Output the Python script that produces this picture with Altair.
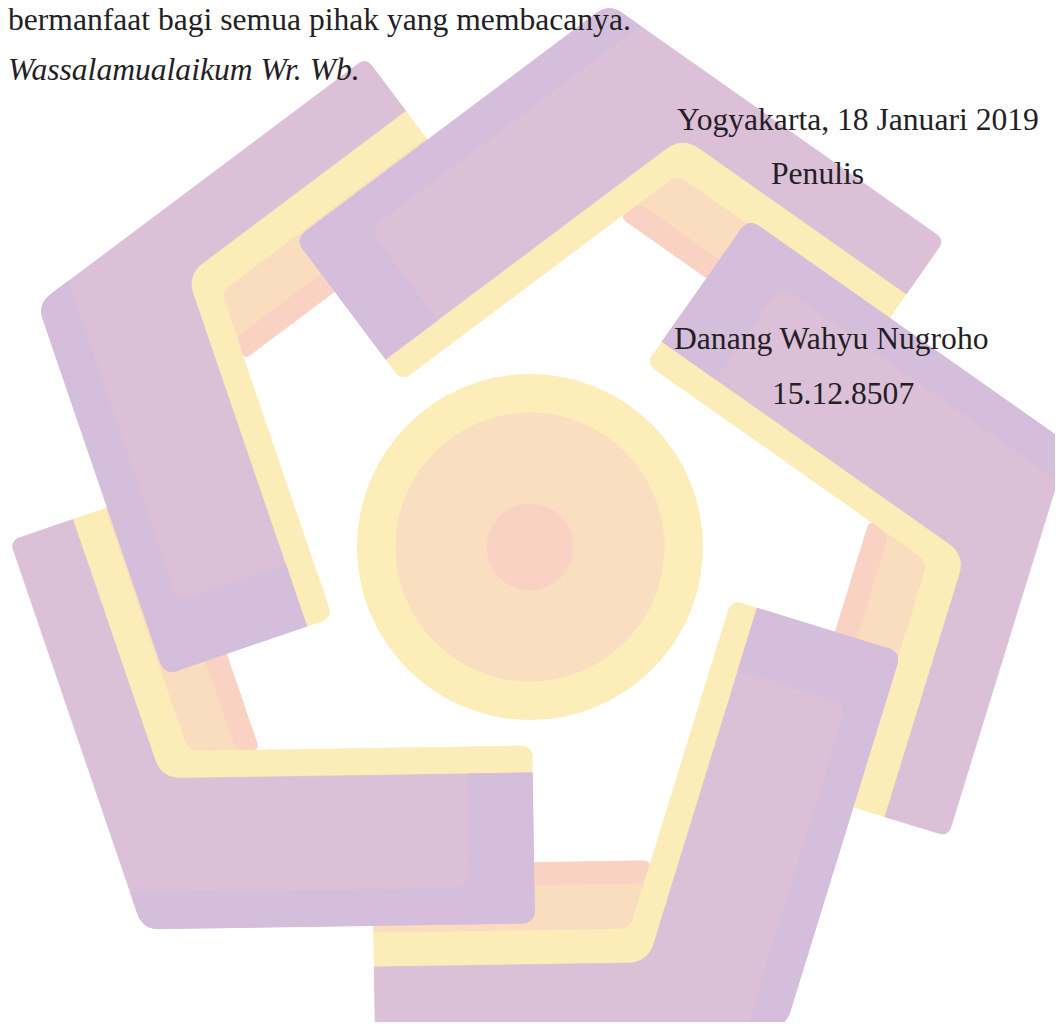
import numpy as np
import pandas as pd
import altair as alt

# ---------------- values (pixels, y down) ----------------
CENTER = (530.0, 547.0)            # centre of the logo / circles
APEX = (609.0, 4.0)                # outer corner of the top arm
THICK_DIR_DEG = 143.13             # direction of the thick leg from the apex
THIN_DIR_DEG = 35.13               # direction of the thin leg from the apex
ARM_ROT_DEG = [0, -72, -144, -216, -288]
ARM_SHIFT = [(0, 0), (0, 0), (-4, -11), (0, -6), (-2, -10)]
LEG_THICK_LEN = 392
LEG_THIN_LEN = 410
PURPLE_W = [150, 66]               # purple width on thick / thin leg
YELLOW_IN = [177, 100]             # inner edge of yellow band (thick / thin)
PEACH_IN_THIN = 160
SALMON_OUT_THIN = 146
SALMON_IN_THIN = 168
BLUE_STRIP = 36
BLUE_END = 65
CIRCLE_R = [173, 134.5, 43.5]

PINK = "#dbc0d8"
BLUISH = "#d5bedb"
YELLOW = "#fcecb8"
PEACH = "#fadcbe"
SALMON = "#f9d2c3"
CIRCLE_COL = ["#fcedb9", "#fadec0", "#f9d2c4"]

TEXT_LINES = ["bermanfaat bagi semua pihak yang membacanya.",
              "Yogyakarta, 18 Januari 2019",
              "Penulis",
              "Danang Wahyu Nugroho",
              "15.12.8507"]
TEXT_X = [8, 677, 771, 674, 772]
TEXT_Y = [30, 130, 184, 349, 404]
ITALIC_LINES = ["Wassalamualaikum Wr. Wb."]
ITALIC_X = [8]
ITALIC_Y = [80]
FONT_SIZE = 31.6

# ---------------- geometry helpers ----------------
C = np.array(CENTER)
A = np.array(APEX)
u1 = np.array([np.cos(np.radians(THICK_DIR_DEG)), np.sin(np.radians(THICK_DIR_DEG))])
u2 = np.array([np.cos(np.radians(THIN_DIR_DEG)), np.sin(np.radians(THIN_DIR_DEG))])
n1 = np.array([u1[1], -u1[0]])
n2 = np.array([-u2[1], u2[0]])
if np.dot(n1, C - A) < 0:
    n1 = -n1
if np.dot(n2, C - A) < 0:
    n2 = -n2
M = np.array([n1, n2])


def pt_off(p, q):
    return A + np.linalg.solve(M, np.array([p, q]))


def pt_thick(p, s):
    return A + p * n1 + s * u1


def pt_thin(q, s):
    return A + q * n2 + s * u2


def rounded(pts, radii, nseg=12):
    out = []
    n = len(pts)
    for i in range(n):
        V = np.array(pts[i], dtype=float)
        r = radii[i]
        if r <= 0:
            out.append(V)
            continue
        P = np.array(pts[i - 1], dtype=float)
        N = np.array(pts[(i + 1) % n], dtype=float)
        a = P - V
        b = N - V
        la = np.linalg.norm(a)
        lb = np.linalg.norm(b)
        a /= la
        b /= lb
        th = np.arccos(np.clip(np.dot(a, b), -1, 1))
        t = r / np.tan(th / 2)
        t = min(t, 0.45 * la, 0.45 * lb)
        T1 = V + a * t
        T2 = V + b * t
        for s in np.linspace(0, 1, nseg):
            out.append((1 - s) ** 2 * T1 + 2 * (1 - s) * s * V + s ** 2 * T2)
    return out


def place(pts, deg, shift):
    al = np.radians(deg)
    ca, sa = np.cos(al), np.sin(al)
    res = []
    for p in pts:
        d = p - C
        res.append(C + np.array(shift) + np.array([d[0] * ca - d[1] * sa, d[0] * sa + d[1] * ca]))
    return res


L1, L2 = LEG_THICK_LEN, LEG_THIN_LEN
PT, PN = PURPLE_W
YT, YN = YELLOW_IN

shapes = {
    "peach": rounded([pt_off(YT, YN), pt_thin(YN, L2), pt_thin(PEACH_IN_THIN, L2),
                      pt_off(YT, PEACH_IN_THIN)], [10, 0, 0, 0]),
    "salmon": rounded([pt_off(YT, SALMON_OUT_THIN), pt_thin(SALMON_OUT_THIN, L2),
                       pt_thin(SALMON_IN_THIN, L2), pt_off(YT, SALMON_IN_THIN)], [14, 0, 0, 6]),
    "yellow": rounded([pt_thick(120, L1), pt_off(120, 40), pt_thin(40, L2), pt_thin(YN, L2),
                       pt_off(YT, YN), pt_thick(YT, L1)], [0, 0, 0, 0, 16, 12]),
    "pink": rounded([pt_thick(0, L1), A, pt_thin(0, L2), pt_thin(PN, L2),
                     pt_off(PT, PN), pt_thick(PT, L1)], [14, 22, 10, 0, 28, 0]),
    "bluish": rounded([pt_thick(0, L1), A, pt_off(BLUE_STRIP, 0),
                       pt_thick(BLUE_STRIP, L1 - BLUE_END), pt_thick(PT, L1 - BLUE_END),
                       pt_thick(PT, L1)], [14, 22, 0, 16, 0, 0]),
}
colors = {"peach": PEACH, "salmon": SALMON, "yellow": YELLOW, "pink": PINK, "bluish": BLUISH}


def shape_frame(name):
    rows = []
    for k, deg in enumerate(ARM_ROT_DEG):
        for i, p in enumerate(place(shapes[name], deg, ARM_SHIFT[k])):
            rows.append({"x": float(p[0]), "y": float(p[1]), "poly": f"{name}{k}", "i": i})
    return pd.DataFrame(rows)


X0, X1 = 8, 1055
Y0, Y1 = 8, 1022
xs = alt.X("x:Q", scale=alt.Scale(domain=[X0, X1], nice=False, zero=False), axis=None)
ys = alt.Y("y:Q", scale=alt.Scale(domain=[Y0, Y1], nice=False, zero=False, reverse=True), axis=None)

layers = []
for name in ["peach", "salmon", "yellow", "pink", "bluish"]:
    c = colors[name]
    layers.append(
        alt.Chart(shape_frame(name)).mark_line(fill=c, stroke=c, strokeWidth=0.8, clip=True)
        .encode(x=xs, y=ys, detail="poly:N", order="i:Q")
    )

for r, c in zip(CIRCLE_R, CIRCLE_COL):
    # Vega circle symbols: radius = sqrt(size) / 2
    dfc = pd.DataFrame({"x": [CENTER[0]], "y": [CENTER[1]], "s": [4.0 * r * r]})
    layers.append(
        alt.Chart(dfc).mark_circle(color=c, opacity=1, clip=True)
        .encode(x=xs, y=ys, size=alt.Size("s:Q", scale=None, legend=None))
    )

df_t = pd.DataFrame({"x": TEXT_X, "y": TEXT_Y, "t": TEXT_LINES})
layers.append(
    alt.Chart(df_t).mark_text(font="Liberation Serif", fontSize=FONT_SIZE, align="left",
                              baseline="alphabetic", color="#241e25")
    .encode(x=xs, y=ys, text="t:N")
)
df_i = pd.DataFrame({"x": ITALIC_X, "y": ITALIC_Y, "t": ITALIC_LINES})
layers.append(
    alt.Chart(df_i).mark_text(font="Liberation Serif", fontSize=FONT_SIZE, fontStyle="italic",
                              align="left", baseline="alphabetic", color="#241e25")
    .encode(x=xs, y=ys, text="t:N")
)

chart = (
    alt.layer(*layers)
    .properties(width=X1 - X0, height=Y1 - Y0, padding=0, background="white",
                autosize=alt.AutoSizeParams(type="none"))
    .configure_view(strokeWidth=0)
)
chart.save("out.html", embed_options={"renderer": "svg", "actions": False})
